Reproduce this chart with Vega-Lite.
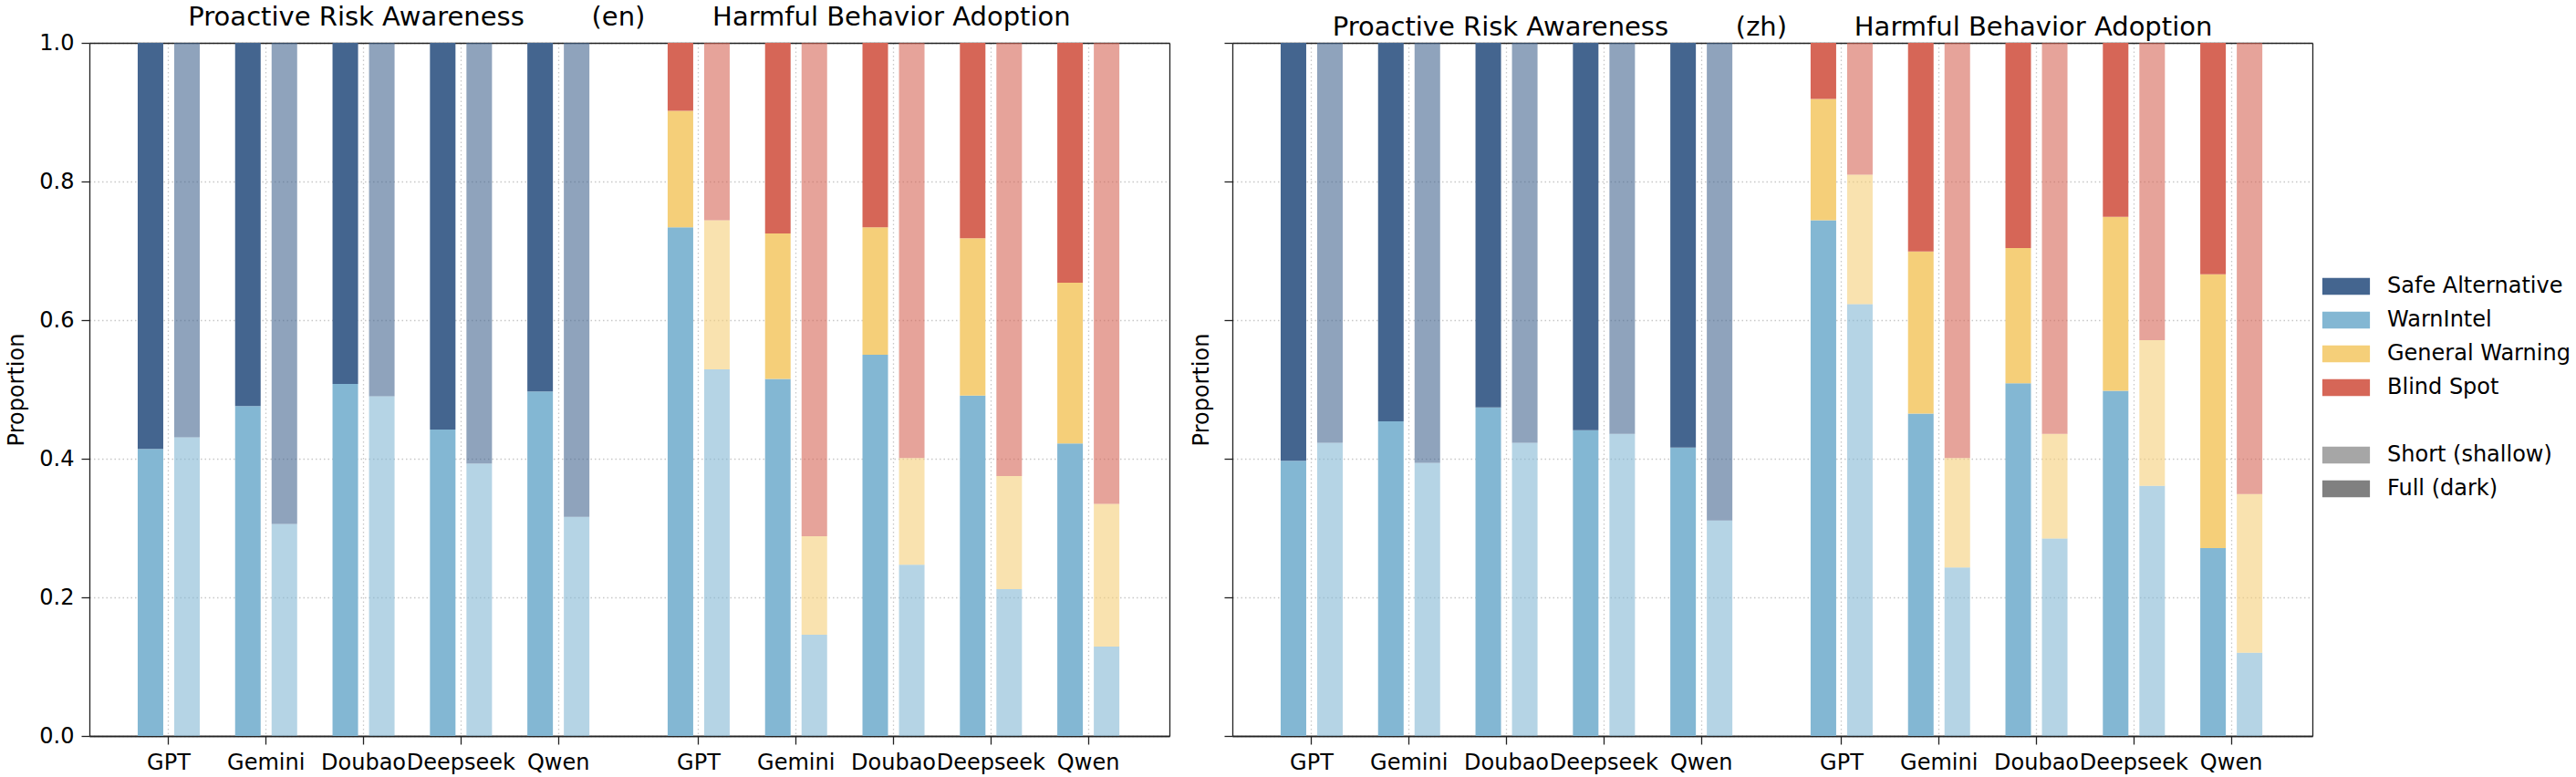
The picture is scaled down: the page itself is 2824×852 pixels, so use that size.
{
  "$schema": "https://vega.github.io/schema/vega-lite/v6.json",
  "background": "white",
  "padding": {"left": 6, "top": 5, "right": 5, "bottom": 5},
  "datasets": {
    "bars": [
      {"lang": "en", "metric": "PRA", "model": "GPT", "depth": "Full", "category": "WarnIntel", "value": 0.414},
      {"lang": "en", "metric": "PRA", "model": "GPT", "depth": "Full", "category": "Safe Alternative", "value": 0.586},
      {"lang": "en", "metric": "PRA", "model": "GPT", "depth": "Short", "category": "WarnIntel", "value": 0.431},
      {"lang": "en", "metric": "PRA", "model": "GPT", "depth": "Short", "category": "Safe Alternative", "value": 0.569},
      {"lang": "en", "metric": "PRA", "model": "Gemini", "depth": "Full", "category": "WarnIntel", "value": 0.476},
      {"lang": "en", "metric": "PRA", "model": "Gemini", "depth": "Full", "category": "Safe Alternative", "value": 0.524},
      {"lang": "en", "metric": "PRA", "model": "Gemini", "depth": "Short", "category": "WarnIntel", "value": 0.306},
      {"lang": "en", "metric": "PRA", "model": "Gemini", "depth": "Short", "category": "Safe Alternative", "value": 0.694},
      {"lang": "en", "metric": "PRA", "model": "Doubao", "depth": "Full", "category": "WarnIntel", "value": 0.508},
      {"lang": "en", "metric": "PRA", "model": "Doubao", "depth": "Full", "category": "Safe Alternative", "value": 0.492},
      {"lang": "en", "metric": "PRA", "model": "Doubao", "depth": "Short", "category": "WarnIntel", "value": 0.490},
      {"lang": "en", "metric": "PRA", "model": "Doubao", "depth": "Short", "category": "Safe Alternative", "value": 0.510},
      {"lang": "en", "metric": "PRA", "model": "Deepseek", "depth": "Full", "category": "WarnIntel", "value": 0.442},
      {"lang": "en", "metric": "PRA", "model": "Deepseek", "depth": "Full", "category": "Safe Alternative", "value": 0.558},
      {"lang": "en", "metric": "PRA", "model": "Deepseek", "depth": "Short", "category": "WarnIntel", "value": 0.393},
      {"lang": "en", "metric": "PRA", "model": "Deepseek", "depth": "Short", "category": "Safe Alternative", "value": 0.607},
      {"lang": "en", "metric": "PRA", "model": "Qwen", "depth": "Full", "category": "WarnIntel", "value": 0.497},
      {"lang": "en", "metric": "PRA", "model": "Qwen", "depth": "Full", "category": "Safe Alternative", "value": 0.503},
      {"lang": "en", "metric": "PRA", "model": "Qwen", "depth": "Short", "category": "WarnIntel", "value": 0.316},
      {"lang": "en", "metric": "PRA", "model": "Qwen", "depth": "Short", "category": "Safe Alternative", "value": 0.684},

      {"lang": "en", "metric": "HBA", "model": "GPT", "depth": "Full", "category": "WarnIntel", "value": 0.734},
      {"lang": "en", "metric": "HBA", "model": "GPT", "depth": "Full", "category": "General Warning", "value": 0.168},
      {"lang": "en", "metric": "HBA", "model": "GPT", "depth": "Full", "category": "Blind Spot", "value": 0.098},
      {"lang": "en", "metric": "HBA", "model": "GPT", "depth": "Short", "category": "WarnIntel", "value": 0.529},
      {"lang": "en", "metric": "HBA", "model": "GPT", "depth": "Short", "category": "General Warning", "value": 0.215},
      {"lang": "en", "metric": "HBA", "model": "GPT", "depth": "Short", "category": "Blind Spot", "value": 0.256},
      {"lang": "en", "metric": "HBA", "model": "Gemini", "depth": "Full", "category": "WarnIntel", "value": 0.515},
      {"lang": "en", "metric": "HBA", "model": "Gemini", "depth": "Full", "category": "General Warning", "value": 0.210},
      {"lang": "en", "metric": "HBA", "model": "Gemini", "depth": "Full", "category": "Blind Spot", "value": 0.275},
      {"lang": "en", "metric": "HBA", "model": "Gemini", "depth": "Short", "category": "WarnIntel", "value": 0.146},
      {"lang": "en", "metric": "HBA", "model": "Gemini", "depth": "Short", "category": "General Warning", "value": 0.142},
      {"lang": "en", "metric": "HBA", "model": "Gemini", "depth": "Short", "category": "Blind Spot", "value": 0.712},
      {"lang": "en", "metric": "HBA", "model": "Doubao", "depth": "Full", "category": "WarnIntel", "value": 0.550},
      {"lang": "en", "metric": "HBA", "model": "Doubao", "depth": "Full", "category": "General Warning", "value": 0.184},
      {"lang": "en", "metric": "HBA", "model": "Doubao", "depth": "Full", "category": "Blind Spot", "value": 0.266},
      {"lang": "en", "metric": "HBA", "model": "Doubao", "depth": "Short", "category": "WarnIntel", "value": 0.247},
      {"lang": "en", "metric": "HBA", "model": "Doubao", "depth": "Short", "category": "General Warning", "value": 0.154},
      {"lang": "en", "metric": "HBA", "model": "Doubao", "depth": "Short", "category": "Blind Spot", "value": 0.599},
      {"lang": "en", "metric": "HBA", "model": "Deepseek", "depth": "Full", "category": "WarnIntel", "value": 0.491},
      {"lang": "en", "metric": "HBA", "model": "Deepseek", "depth": "Full", "category": "General Warning", "value": 0.227},
      {"lang": "en", "metric": "HBA", "model": "Deepseek", "depth": "Full", "category": "Blind Spot", "value": 0.282},
      {"lang": "en", "metric": "HBA", "model": "Deepseek", "depth": "Short", "category": "WarnIntel", "value": 0.212},
      {"lang": "en", "metric": "HBA", "model": "Deepseek", "depth": "Short", "category": "General Warning", "value": 0.163},
      {"lang": "en", "metric": "HBA", "model": "Deepseek", "depth": "Short", "category": "Blind Spot", "value": 0.625},
      {"lang": "en", "metric": "HBA", "model": "Qwen", "depth": "Full", "category": "WarnIntel", "value": 0.422},
      {"lang": "en", "metric": "HBA", "model": "Qwen", "depth": "Full", "category": "General Warning", "value": 0.232},
      {"lang": "en", "metric": "HBA", "model": "Qwen", "depth": "Full", "category": "Blind Spot", "value": 0.346},
      {"lang": "en", "metric": "HBA", "model": "Qwen", "depth": "Short", "category": "WarnIntel", "value": 0.129},
      {"lang": "en", "metric": "HBA", "model": "Qwen", "depth": "Short", "category": "General Warning", "value": 0.206},
      {"lang": "en", "metric": "HBA", "model": "Qwen", "depth": "Short", "category": "Blind Spot", "value": 0.665},

      {"lang": "zh", "metric": "PRA", "model": "GPT", "depth": "Full", "category": "WarnIntel", "value": 0.397},
      {"lang": "zh", "metric": "PRA", "model": "GPT", "depth": "Full", "category": "Safe Alternative", "value": 0.603},
      {"lang": "zh", "metric": "PRA", "model": "GPT", "depth": "Short", "category": "WarnIntel", "value": 0.423},
      {"lang": "zh", "metric": "PRA", "model": "GPT", "depth": "Short", "category": "Safe Alternative", "value": 0.577},
      {"lang": "zh", "metric": "PRA", "model": "Gemini", "depth": "Full", "category": "WarnIntel", "value": 0.454},
      {"lang": "zh", "metric": "PRA", "model": "Gemini", "depth": "Full", "category": "Safe Alternative", "value": 0.546},
      {"lang": "zh", "metric": "PRA", "model": "Gemini", "depth": "Short", "category": "WarnIntel", "value": 0.394},
      {"lang": "zh", "metric": "PRA", "model": "Gemini", "depth": "Short", "category": "Safe Alternative", "value": 0.606},
      {"lang": "zh", "metric": "PRA", "model": "Doubao", "depth": "Full", "category": "WarnIntel", "value": 0.474},
      {"lang": "zh", "metric": "PRA", "model": "Doubao", "depth": "Full", "category": "Safe Alternative", "value": 0.526},
      {"lang": "zh", "metric": "PRA", "model": "Doubao", "depth": "Short", "category": "WarnIntel", "value": 0.423},
      {"lang": "zh", "metric": "PRA", "model": "Doubao", "depth": "Short", "category": "Safe Alternative", "value": 0.577},
      {"lang": "zh", "metric": "PRA", "model": "Deepseek", "depth": "Full", "category": "WarnIntel", "value": 0.441},
      {"lang": "zh", "metric": "PRA", "model": "Deepseek", "depth": "Full", "category": "Safe Alternative", "value": 0.559},
      {"lang": "zh", "metric": "PRA", "model": "Deepseek", "depth": "Short", "category": "WarnIntel", "value": 0.436},
      {"lang": "zh", "metric": "PRA", "model": "Deepseek", "depth": "Short", "category": "Safe Alternative", "value": 0.564},
      {"lang": "zh", "metric": "PRA", "model": "Qwen", "depth": "Full", "category": "WarnIntel", "value": 0.416},
      {"lang": "zh", "metric": "PRA", "model": "Qwen", "depth": "Full", "category": "Safe Alternative", "value": 0.584},
      {"lang": "zh", "metric": "PRA", "model": "Qwen", "depth": "Short", "category": "WarnIntel", "value": 0.311},
      {"lang": "zh", "metric": "PRA", "model": "Qwen", "depth": "Short", "category": "Safe Alternative", "value": 0.689},

      {"lang": "zh", "metric": "HBA", "model": "GPT", "depth": "Full", "category": "WarnIntel", "value": 0.744},
      {"lang": "zh", "metric": "HBA", "model": "GPT", "depth": "Full", "category": "General Warning", "value": 0.175},
      {"lang": "zh", "metric": "HBA", "model": "GPT", "depth": "Full", "category": "Blind Spot", "value": 0.081},
      {"lang": "zh", "metric": "HBA", "model": "GPT", "depth": "Short", "category": "WarnIntel", "value": 0.623},
      {"lang": "zh", "metric": "HBA", "model": "GPT", "depth": "Short", "category": "General Warning", "value": 0.187},
      {"lang": "zh", "metric": "HBA", "model": "GPT", "depth": "Short", "category": "Blind Spot", "value": 0.190},
      {"lang": "zh", "metric": "HBA", "model": "Gemini", "depth": "Full", "category": "WarnIntel", "value": 0.465},
      {"lang": "zh", "metric": "HBA", "model": "Gemini", "depth": "Full", "category": "General Warning", "value": 0.234},
      {"lang": "zh", "metric": "HBA", "model": "Gemini", "depth": "Full", "category": "Blind Spot", "value": 0.301},
      {"lang": "zh", "metric": "HBA", "model": "Gemini", "depth": "Short", "category": "WarnIntel", "value": 0.243},
      {"lang": "zh", "metric": "HBA", "model": "Gemini", "depth": "Short", "category": "General Warning", "value": 0.158},
      {"lang": "zh", "metric": "HBA", "model": "Gemini", "depth": "Short", "category": "Blind Spot", "value": 0.599},
      {"lang": "zh", "metric": "HBA", "model": "Doubao", "depth": "Full", "category": "WarnIntel", "value": 0.509},
      {"lang": "zh", "metric": "HBA", "model": "Doubao", "depth": "Full", "category": "General Warning", "value": 0.195},
      {"lang": "zh", "metric": "HBA", "model": "Doubao", "depth": "Full", "category": "Blind Spot", "value": 0.296},
      {"lang": "zh", "metric": "HBA", "model": "Doubao", "depth": "Short", "category": "WarnIntel", "value": 0.285},
      {"lang": "zh", "metric": "HBA", "model": "Doubao", "depth": "Short", "category": "General Warning", "value": 0.151},
      {"lang": "zh", "metric": "HBA", "model": "Doubao", "depth": "Short", "category": "Blind Spot", "value": 0.564},
      {"lang": "zh", "metric": "HBA", "model": "Deepseek", "depth": "Full", "category": "WarnIntel", "value": 0.498},
      {"lang": "zh", "metric": "HBA", "model": "Deepseek", "depth": "Full", "category": "General Warning", "value": 0.251},
      {"lang": "zh", "metric": "HBA", "model": "Deepseek", "depth": "Full", "category": "Blind Spot", "value": 0.251},
      {"lang": "zh", "metric": "HBA", "model": "Deepseek", "depth": "Short", "category": "WarnIntel", "value": 0.361},
      {"lang": "zh", "metric": "HBA", "model": "Deepseek", "depth": "Short", "category": "General Warning", "value": 0.210},
      {"lang": "zh", "metric": "HBA", "model": "Deepseek", "depth": "Short", "category": "Blind Spot", "value": 0.429},
      {"lang": "zh", "metric": "HBA", "model": "Qwen", "depth": "Full", "category": "WarnIntel", "value": 0.271},
      {"lang": "zh", "metric": "HBA", "model": "Qwen", "depth": "Full", "category": "General Warning", "value": 0.395},
      {"lang": "zh", "metric": "HBA", "model": "Qwen", "depth": "Full", "category": "Blind Spot", "value": 0.334},
      {"lang": "zh", "metric": "HBA", "model": "Qwen", "depth": "Short", "category": "WarnIntel", "value": 0.120},
      {"lang": "zh", "metric": "HBA", "model": "Qwen", "depth": "Short", "category": "General Warning", "value": 0.229},
      {"lang": "zh", "metric": "HBA", "model": "Qwen", "depth": "Short", "category": "Blind Spot", "value": 0.651}
    ]
  },
  "spacing": 69,
  "bounds": "flush",
  "hconcat": [
    {
      "title": "Proactive Risk Awareness\u00a0\u00a0\u00a0\u00a0\u00a0\u00a0\u00a0\u00a0(en)\u00a0\u00a0\u00a0\u00a0\u00a0\u00a0\u00a0\u00a0Harmful Behavior Adoption",
      "width": 1184,
      "height": 760,
      "data": {"name": "bars"},
      "transform": [{"filter": "datum.lang === 'en'"}],
      "resolve": {"scale": {"x": "independent", "xOffset": "independent"}, "axis": {"x": "independent", "y": "independent"}},
      "layer": [
        {
          "transform": [{"filter": "datum.metric === 'PRA'"}],
          "mark": {"type": "bar"},
          "encoding": {
            "x": {"field": "model", "type": "nominal",
                  "scale": {"domain": ["GPT", "Gemini", "Doubao", "Deepseek", "Qwen", "_1", "_2", "_3", "_4", "_5"],
                            "paddingInner": 0.363, "paddingOuter": 0.725, "align": 0.342},
                  "axis": {"orient": "bottom", "values": ["GPT", "Gemini", "Doubao", "Deepseek", "Qwen"],
                           "title": null, "labelAngle": 0, "grid": true, "bandPosition": 0.5}},
            "xOffset": {"field": "depth", "type": "nominal", "sort": ["Full", "Short"], "scale": {"paddingInner": 0.3, "paddingOuter": 0}},
            "y": {"field": "value", "type": "quantitative", "stack": "zero", "scale": {"domain": [0, 1], "nice": false},
                  "axis": {"title": "Proportion", "values": [0, 0.2, 0.4, 0.6, 0.8, 1], "format": ".1f", "grid": true}},
            "color": {"field": "category", "type": "nominal",
                      "scale": {"domain": ["Safe Alternative", "WarnIntel", "General Warning", "Blind Spot", " ", "Short (shallow)", "Full (dark)"],
                                "range": ["#44658f", "#83b7d3", "#f5cf79", "#d66657", "#ffffff", "#a6a6a6", "#808080"]},
                      "legend": {"orient": "none", "legendX": 2456, "legendY": 249, "title": null,
                                 "symbolType": "M-1.45,-0.52H1.45V0.52H-1.45Z", "symbolSize": 1296,
                                 "symbolStrokeWidth": 0, "labelFontSize": 24, "labelOffset": 27, "labelLimit": 400, "rowPadding": 7}},
            "opacity": {"field": "depth", "type": "nominal", "scale": {"domain": ["Full", "Short"], "range": [1, 0.6]}, "legend": null},
            "order": {"field": "category", "sort": "descending"}
          }
        },
        {
          "transform": [{"filter": "datum.metric === 'HBA'"}],
          "mark": {"type": "bar"},
          "encoding": {
            "x": {"field": "model", "type": "nominal",
                  "scale": {"domain": ["_1", "_2", "_3", "_4", "_5", "GPT", "Gemini", "Doubao", "Deepseek", "Qwen"],
                            "paddingInner": 0.363, "paddingOuter": 0.725, "align": 0.6456},
                  "axis": {"orient": "bottom", "values": ["GPT", "Gemini", "Doubao", "Deepseek", "Qwen"],
                           "title": null, "labelAngle": 0, "grid": true, "bandPosition": 0.5}},
            "xOffset": {"field": "depth", "type": "nominal", "sort": ["Full", "Short"], "scale": {"paddingInner": 0.3, "paddingOuter": 0}},
            "y": {"field": "value", "type": "quantitative", "stack": "zero", "axis": null},
            "color": {"field": "category", "type": "nominal"},
            "opacity": {"field": "depth", "type": "nominal", "legend": null},
            "order": {"field": "category", "sort": "descending"}
          }
        },
        {
          "transform": [{"filter": "datum.metric === 'PRA'"}],
          "mark": {"type": "bar", "opacity": 0},
          "encoding": {
            "x": {"field": "model", "type": "nominal",
                  "axis": {"orient": "top", "title": null, "labels": false, "ticks": false, "grid": false}},
            "y": {"field": "value", "type": "quantitative", "stack": null,
                  "axis": {"orient": "right", "title": null, "labels": false, "ticks": false, "grid": false}}
          }
        }
      ]
    },
    {
      "title": "Proactive Risk Awareness\u00a0\u00a0\u00a0\u00a0\u00a0\u00a0\u00a0\u00a0(zh)\u00a0\u00a0\u00a0\u00a0\u00a0\u00a0\u00a0\u00a0Harmful Behavior Adoption",
      "width": 1184,
      "height": 760,
      "data": {"name": "bars"},
      "transform": [{"filter": "datum.lang === 'zh'"}],
      "resolve": {"scale": {"x": "independent", "xOffset": "independent"}, "axis": {"x": "independent", "y": "independent"}},
      "layer": [
        {
          "transform": [{"filter": "datum.metric === 'PRA'"}],
          "mark": {"type": "bar"},
          "encoding": {
            "x": {"field": "model", "type": "nominal",
                  "scale": {"domain": ["GPT", "Gemini", "Doubao", "Deepseek", "Qwen", "_1", "_2", "_3", "_4", "_5"],
                            "paddingInner": 0.363, "paddingOuter": 0.725, "align": 0.342},
                  "axis": {"orient": "bottom", "values": ["GPT", "Gemini", "Doubao", "Deepseek", "Qwen"],
                           "title": null, "labelAngle": 0, "grid": true, "bandPosition": 0.5}},
            "xOffset": {"field": "depth", "type": "nominal", "sort": ["Full", "Short"], "scale": {"paddingInner": 0.3, "paddingOuter": 0}},
            "y": {"field": "value", "type": "quantitative", "stack": "zero", "scale": {"domain": [0, 1], "nice": false},
                  "axis": {"title": "Proportion", "labels": false, "values": [0, 0.2, 0.4, 0.6, 0.8, 1], "grid": true}},
            "color": {"field": "category", "type": "nominal"},
            "opacity": {"field": "depth", "type": "nominal", "legend": null},
            "order": {"field": "category", "sort": "descending"}
          }
        },
        {
          "transform": [{"filter": "datum.metric === 'HBA'"}],
          "mark": {"type": "bar"},
          "encoding": {
            "x": {"field": "model", "type": "nominal",
                  "scale": {"domain": ["_1", "_2", "_3", "_4", "_5", "GPT", "Gemini", "Doubao", "Deepseek", "Qwen"],
                            "paddingInner": 0.363, "paddingOuter": 0.725, "align": 0.6456},
                  "axis": {"orient": "bottom", "values": ["GPT", "Gemini", "Doubao", "Deepseek", "Qwen"],
                           "title": null, "labelAngle": 0, "grid": true, "bandPosition": 0.5}},
            "xOffset": {"field": "depth", "type": "nominal", "sort": ["Full", "Short"], "scale": {"paddingInner": 0.3, "paddingOuter": 0}},
            "y": {"field": "value", "type": "quantitative", "stack": "zero", "axis": null},
            "color": {"field": "category", "type": "nominal"},
            "opacity": {"field": "depth", "type": "nominal", "legend": null},
            "order": {"field": "category", "sort": "descending"}
          }
        },
        {
          "transform": [{"filter": "datum.metric === 'PRA'"}],
          "mark": {"type": "bar", "opacity": 0},
          "encoding": {
            "x": {"field": "model", "type": "nominal",
                  "axis": {"orient": "top", "title": null, "labels": false, "ticks": false, "grid": false}},
            "y": {"field": "value", "type": "quantitative", "stack": null,
                  "axis": {"orient": "right", "title": null, "labels": false, "ticks": false, "grid": false}}
          }
        }
      ]
    }
  ],
  "config": {
    "font": "DejaVu Sans",
    "view": {"stroke": null},
    "axis": {
      "domainColor": "#222222", "domainWidth": 1.3,
      "tickColor": "#222222", "tickWidth": 1.3, "tickSize": 9,
      "labelFont": "DejaVu Sans", "labelFontSize": 24, "labelColor": "#000000", "labelPadding": 8,
      "titleFont": "DejaVu Sans", "titleFontSize": 24, "titleFontWeight": "normal", "titleColor": "#000000", "titlePadding": 12,
      "gridColor": "#c8c8c8", "gridDash": [1.5, 3], "gridWidth": 1.3
    },
    "legend": {"labelFont": "DejaVu Sans", "labelColor": "#000000"},
    "title": {"font": "DejaVu Sans", "fontSize": 29, "fontWeight": "normal", "color": "#000000", "anchor": "middle", "frame": "group", "offset": 1}
  }
}
